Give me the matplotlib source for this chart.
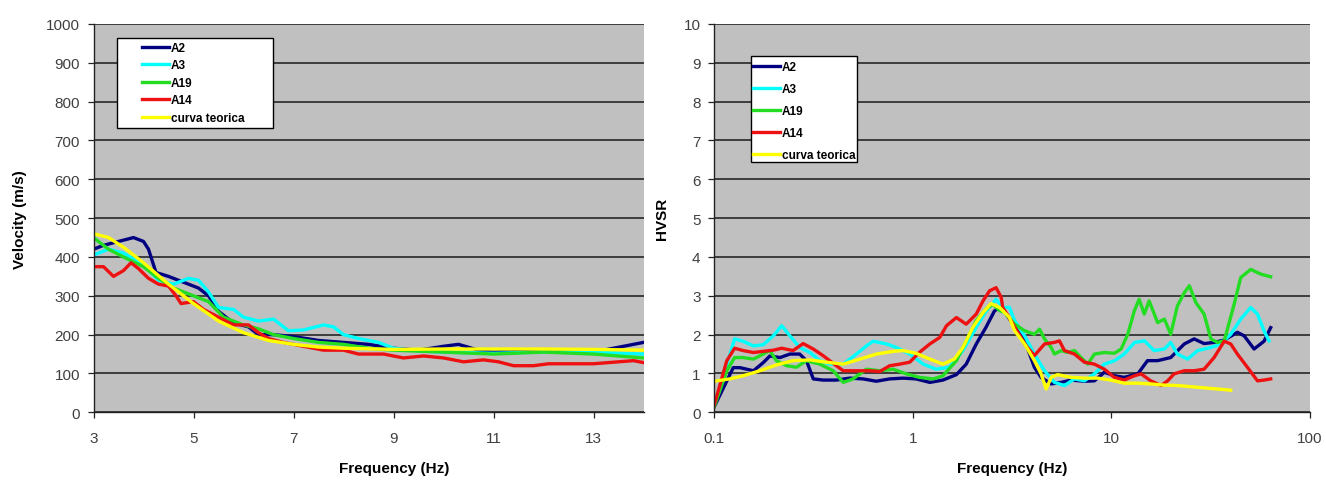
import matplotlib
matplotlib.use("agg")
import matplotlib.pyplot as plt
from matplotlib.patches import Rectangle
from matplotlib.ticker import FixedLocator, NullLocator, FixedFormatter

plt.rcParams["font.family"] = ["Liberation Sans", "DejaVu Sans"]

W, H = 1326, 481

series_names = ["A2", "A3", "A19", "A14", "curva teorica"]
series_colors = ["#000080", "#00FFFF", "#22DD22", "#EE1111", "#FFFF00"]

# --- left chart: velocity vs frequency ---
vel_a2_f = [3.0, 3.2, 3.5, 3.8, 4.0, 4.1, 4.25, 4.5, 4.8, 5.1, 5.3, 5.5, 5.8, 6.1, 6.3, 6.6, 7.0, 7.5, 8.0,
            8.5, 9.0, 9.5, 10.0, 10.3, 10.7, 11.0, 11.5, 12.0, 12.5, 13.0, 13.2, 13.6, 14.0]
vel_a2_v = [420, 430, 440, 450, 440, 420, 360, 350, 335, 320, 300, 260, 230, 220, 200, 200, 195, 185, 180,
            175, 165, 160, 170, 175, 160, 155, 160, 160, 155, 160, 160, 170, 180]

vel_a3_f = [3.0, 3.3, 3.6, 4.0, 4.3, 4.6, 4.9, 5.1, 5.3, 5.5, 5.8, 6.0, 6.3, 6.6, 6.9, 7.2, 7.6, 7.8, 8.0,
            8.3, 8.7, 9.0, 9.5, 10, 11, 12, 13, 14]
vel_a3_v = [405, 420, 410, 380, 340, 330, 345, 340, 310, 270, 265, 245, 235, 240, 210, 212, 225, 220, 200,
            190, 180, 165, 158, 155, 152, 155, 155, 150]

vel_a19_f = [3.0, 3.3, 3.6, 4.0, 4.3, 4.6, 5.0, 5.3, 5.6, 6.0, 6.3, 6.6, 7.0, 7.5, 8.0, 8.5, 9.0, 10, 11,
             12, 13, 14]
vel_a19_v = [450, 420, 400, 375, 345, 320, 300, 285, 245, 225, 215, 200, 190, 180, 175, 165, 160, 155, 150,
             155, 150, 140]

vel_a14_f = [3.0, 3.2, 3.4, 3.6, 3.75, 3.9, 4.1, 4.3, 4.5, 4.65, 4.75, 5.0, 5.2, 5.5, 5.8, 6.1, 6.3, 6.5,
             6.8, 7.2, 7.6, 8.0, 8.3, 8.8, 9.2, 9.6, 10.0, 10.4, 10.8, 11.1, 11.4, 11.8, 12.1, 12.6, 13.0,
             13.5, 13.8, 14.0]
vel_a14_v = [375, 375, 350, 365, 385, 370, 345, 330, 325, 300, 280, 285, 265, 245, 225, 225, 205, 190,
             180, 170, 160, 160, 150, 150, 140, 145, 140, 130, 135, 130, 120, 120, 125, 125, 125,
             130, 133, 128]

vel_teo_f = [3.0, 3.3, 3.6, 4.0, 4.5, 5.0, 5.5, 6.0, 6.5, 7.0, 7.5, 8.0, 9.0, 10, 11, 12, 13, 14]
vel_teo_v = [460, 450, 425, 385, 330, 280, 235, 205, 185, 175, 168, 165, 162, 163, 163, 163, 162, 160]

# --- right chart: HVSR vs frequency (log) ---
hv_a2_f = [0.100, 0.125, 0.135, 0.158, 0.177, 0.191, 0.215, 0.241, 0.270, 0.292, 0.316, 0.354, 0.413,
           0.482, 0.563, 0.656, 0.766, 0.894, 1.04, 1.22, 1.42, 1.66, 1.86, 2.09, 2.34, 2.58, 2.74,
           2.90, 3.26, 3.66, 4.10, 4.43, 4.98, 5.59, 6.27, 7.32, 8.22, 9.22, 10.4, 11.6, 13.6, 15.2,
           17.1, 19.9, 23.3, 26.1, 29.3, 32.9, 37.0, 43.1, 46.6, 52.3, 58.7, 63.4]
hv_a2_v = [0.13, 1.15, 1.15, 1.07, 1.28, 1.45, 1.41, 1.50, 1.50, 1.33, 0.86, 0.83, 0.83,
           0.88, 0.86, 0.80, 0.86, 0.88, 0.86, 0.77, 0.83, 0.97, 1.24, 1.76, 2.19, 2.61, 2.70,
           2.60, 2.20, 1.85, 1.16, 0.90, 0.73, 0.77, 0.83, 0.80, 0.81, 1.03, 0.94, 0.90, 0.99, 1.33,
           1.33, 1.41, 1.76, 1.89, 1.77, 1.80, 1.86, 2.06, 1.97, 1.63, 1.83, 2.18]

hv_a3_f = [0.100, 0.116, 0.127, 0.140, 0.158, 0.177, 0.199, 0.219, 0.241, 0.270, 0.304, 0.341, 0.383,
           0.447, 0.521, 0.585, 0.632, 0.738, 0.828, 0.966, 1.13, 1.31, 1.53, 1.79, 2.09, 2.34, 2.63,
           2.84, 3.07, 3.26, 3.66, 4.10, 4.61, 5.17, 5.81, 6.52, 7.32, 8.22, 9.22, 10.4, 11.6, 13.1,
           14.7, 16.4, 18.5, 19.9, 21.5, 24.2, 27.2, 31.7, 35.6, 39.9, 44.8, 50.3, 54.4, 58.7, 62.2]
hv_a3_v = [0.17, 1.24, 1.89, 1.83, 1.71, 1.74, 1.97, 2.23, 1.97, 1.67, 1.54, 1.33, 1.24,
           1.24, 1.50, 1.71, 1.83, 1.76, 1.67, 1.50, 1.24, 1.11, 1.16, 1.59, 2.19, 2.60, 2.91,
           2.70, 2.70, 2.36, 1.97, 1.50, 1.07, 0.77, 0.69, 0.86, 0.81, 0.99, 1.24, 1.33, 1.50, 1.80,
           1.84, 1.59, 1.63, 1.80, 1.50, 1.37, 1.59, 1.67, 1.76, 2.01, 2.40, 2.70, 2.53, 2.10, 1.84]

hv_a19_f = [0.100, 0.116, 0.127, 0.140, 0.158, 0.177, 0.191, 0.206, 0.232, 0.260, 0.292, 0.341, 0.398,
            0.447, 0.501, 0.585, 0.683, 0.797, 0.929, 1.08, 1.27, 1.42, 1.66, 1.86, 2.09, 2.34, 2.53,
            2.74, 2.90, 3.26, 3.66, 4.10, 4.35, 4.61, 4.98, 5.17, 5.59, 6.03, 6.52, 7.04, 7.61, 8.22,
            9.22, 10.35, 11.2, 12.1, 13.05, 13.8, 14.65, 15.5, 17.1, 18.5, 19.9, 21.5, 23.3, 24.7,
            26.6, 29.3, 31.7, 34.2, 37.0, 41.5, 44.8, 50.3, 56.5, 63.4]
hv_a19_v = [0.13, 1.07, 1.41, 1.41, 1.37, 1.50, 1.59, 1.33, 1.20, 1.16, 1.33, 1.24, 1.07,
            0.77, 0.86, 1.11, 1.07, 1.11, 0.99, 0.90, 0.86, 0.94, 1.33, 1.84, 2.36, 2.66, 2.78,
            2.62, 2.57, 2.27, 2.10, 2.01, 2.14, 1.89, 1.67, 1.50, 1.59, 1.54, 1.59, 1.41, 1.24, 1.50,
            1.54, 1.52, 1.63, 2.01, 2.61, 2.91, 2.53, 2.87, 2.31, 2.40, 2.01, 2.74, 3.08, 3.26,
            2.83, 2.53, 1.89, 1.80, 1.84, 2.78, 3.47, 3.68, 3.56, 3.49]

hv_a14_f = [0.100, 0.116, 0.127, 0.140, 0.158, 0.177, 0.199, 0.219, 0.250, 0.281, 0.316, 0.354, 0.398,
            0.447, 0.521, 0.608, 0.683, 0.766, 0.860, 0.966, 1.08, 1.22, 1.37, 1.48, 1.66, 1.86, 2.09,
            2.26, 2.44, 2.63, 2.79, 2.84, 3.02, 3.66, 4.10, 4.61, 5.17, 5.48, 5.81, 6.52, 7.32, 8.22,
            9.22, 10.35, 11.6, 13.05, 14.1, 15.8, 17.8, 19.2, 20.7, 23.3, 26.1, 29.3, 32.9, 37.0,
            39.9, 43.1, 48.4, 54.4, 58.7, 63.4]
hv_a14_v = [0.17, 1.33, 1.65, 1.59, 1.54, 1.57, 1.60, 1.65, 1.59, 1.77, 1.63, 1.46, 1.26,
            1.07, 1.07, 1.07, 1.05, 1.20, 1.24, 1.29, 1.54, 1.76, 1.93, 2.23, 2.44, 2.27, 2.53,
            2.87, 3.13, 3.21, 2.96, 2.70, 2.49, 1.76, 1.46, 1.76, 1.80, 1.84, 1.59, 1.50, 1.29, 1.24,
            1.11, 0.90, 0.83, 0.94, 0.99, 0.81, 0.69, 0.81, 0.99, 1.07, 1.07, 1.11, 1.41, 1.83,
            1.76, 1.50, 1.16, 0.81, 0.83, 0.86]

hv_teo_f = [0.100, 0.120, 0.140, 0.170, 0.206, 0.250, 0.304, 0.368, 0.447, 0.542, 0.657, 0.797, 0.894,
            1.04, 1.22, 1.42, 1.62, 1.79, 2.01, 2.26, 2.48, 2.74, 3.07, 3.26, 3.66, 4.10, 4.43, 4.70,
            4.98, 5.37, 6.27, 7.32, 8.54, 9.96, 11.6, 13.6, 15.8, 18.5, 21.5, 25.1, 29.3, 34.2, 39.9]
hv_teo_v = [0.80, 0.86, 0.94, 1.07, 1.22, 1.33, 1.35, 1.29, 1.24, 1.37, 1.50, 1.57, 1.59,
            1.52, 1.37, 1.24, 1.37, 1.67, 2.19, 2.57, 2.80, 2.70, 2.44, 2.10, 1.76, 1.33, 0.99, 0.60,
            0.90, 0.97, 0.90, 0.88, 0.88, 0.83, 0.75, 0.75, 0.73, 0.70, 0.69, 0.66, 0.63, 0.60, 0.57]

vel_series = [(vel_a2_f, vel_a2_v), (vel_a3_f, vel_a3_v), (vel_a19_f, vel_a19_v),
              (vel_a14_f, vel_a14_v), (vel_teo_f, vel_teo_v)]
hv_series = [(hv_a2_f, hv_a2_v), (hv_a3_f, hv_a3_v), (hv_a19_f, hv_a19_v),
             (hv_a14_f, hv_a14_v), (hv_teo_f, hv_teo_v)]

vel_xticks = [3, 5, 7, 9, 11, 13]
vel_yticks = [0, 100, 200, 300, 400, 500, 600, 700, 800, 900, 1000]
hv_xticks = [0.1, 1, 10, 100]
hv_xlabels = ["0.1", "1", "10", "100"]
hv_yticks = list(range(0, 11))

fig = plt.figure(figsize=(W / 100, H / 100), dpi=100)
fig.patch.set_facecolor("white")

bottom = 1 - 413.3 / H
height = 388.3 / H
ax1 = fig.add_axes([93.5 / W, bottom, 550 / W, height])
ax2 = fig.add_axes([714 / W, bottom, 596 / W, height])


def style_axes(ax):
    ax.set_facecolor("#C0C0C0")
    for s in ("top", "right"):
        ax.spines[s].set_visible(False)
    for s in ("left", "bottom"):
        ax.spines[s].set_color("#222222")
        ax.spines[s].set_linewidth(1.0)
    ax.yaxis.grid(True, color="#1a1a1a", linewidth=1.1)
    ax.set_axisbelow(True)
    ax.tick_params(axis="both", direction="out", length=4.2, width=0.9, color="#222222",
                   labelsize=11, labelcolor="#404040")
    ax.tick_params(axis="x", pad=9)
    ax.tick_params(axis="y", pad=5.5)


style_axes(ax1)
style_axes(ax2)

lines = []
for (f, v), name, c in zip(vel_series, series_names, series_colors):
    ln, = ax1.plot(f, v, color=c, linewidth=2.4, label=name, solid_joinstyle="round")
    lines.append(ln)
ax1.set_xlim(3, 14)
ax1.set_ylim(0, 1000)
ax1.set_xticks(vel_xticks)
ax1.set_yticks(vel_yticks)
ax1.set_xlabel("Frequency (Hz)", fontsize=11, fontweight="bold")
ax1.set_ylabel("Velocity (m/s)", fontsize=11, fontweight="bold")
ax1.xaxis.set_label_coords(0.546, -0.125)
ax1.yaxis.set_label_coords(-0.12, 0.5)

for (f, v), name, c in zip(hv_series, series_names, series_colors):
    ax2.plot(f, v, color=c, linewidth=2.4, label=name, solid_joinstyle="round")
ax2.set_xscale("log")
ax2.set_xlim(0.1, 100)
ax2.set_ylim(0, 10)
ax2.xaxis.set_major_locator(FixedLocator(hv_xticks))
ax2.xaxis.set_major_formatter(FixedFormatter(hv_xlabels))
ax2.xaxis.set_minor_locator(NullLocator())
ax2.set_yticks(hv_yticks)
ax2.set_xlabel("Frequency (Hz)", fontsize=11, fontweight="bold")
ax2.set_ylabel("HVSR", fontsize=11, fontweight="bold")
ax2.xaxis.set_label_coords(0.5, -0.125)
ax2.yaxis.set_label_coords(-0.0755, 0.5)

# legend boxes (figure pixels)
for x0, y0, x1, y1 in [(117, 39, 273, 129), (751, 57, 857, 163)]:
    fig.add_artist(Rectangle((x0 / W, 1 - y1 / H), (x1 - x0) / W, (y1 - y0) / H,
                             transform=fig.transFigure, facecolor="white",
                             edgecolor="black", linewidth=1.0, zorder=3))

leg_font = {"size": 8.5, "weight": "bold"}
fig.legend(lines, series_names, loc="upper left", bbox_to_anchor=(141.5 / W, 1 - 43 / H),
           frameon=False, borderpad=0, borderaxespad=0, handlelength=2.35, handletextpad=0.12,
           labelspacing=0.46, prop=leg_font)
fig.legend(lines, series_names, loc="upper left", bbox_to_anchor=(753 / W, 1 - 62 / H),
           frameon=False, borderpad=0, borderaxespad=0, handlelength=2.3, handletextpad=0.12,
           labelspacing=0.84, prop=leg_font)

fig.savefig("out.png", dpi=100)
